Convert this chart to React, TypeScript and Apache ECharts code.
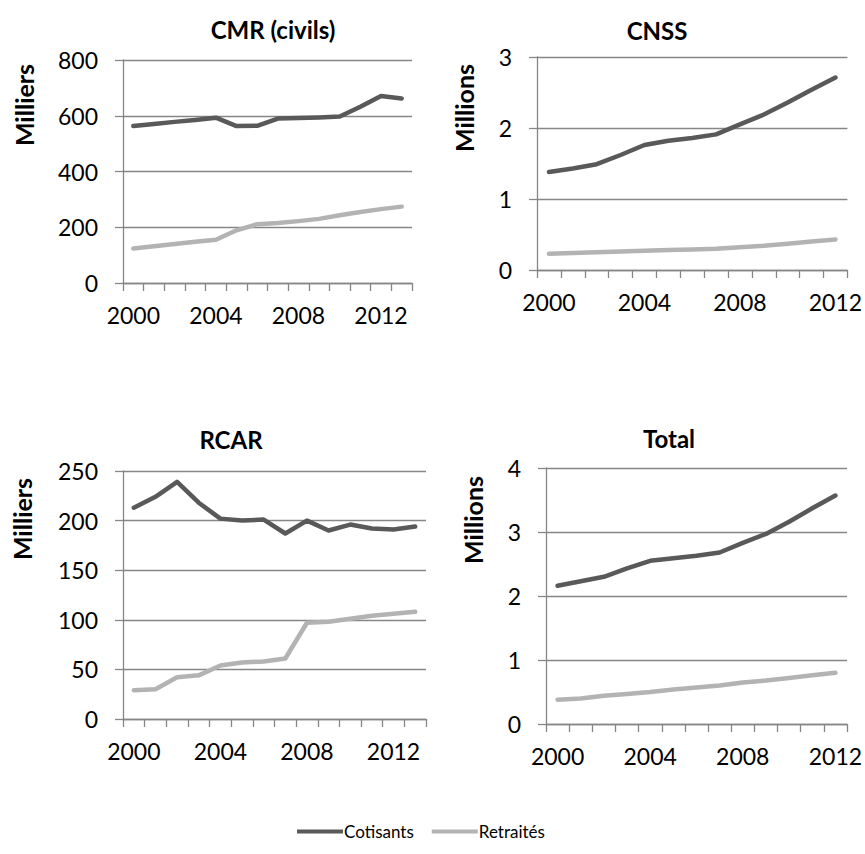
import React, { useEffect, useRef } from "react";
import * as echarts from "echarts";

const yearsLong = ["2000","2001","2002","2003","2004","2005","2006","2007","2008","2009","2010","2011","2012","2013"];
const yearsShort = ["2000","2001","2002","2003","2004","2005","2006","2007","2008","2009","2010","2011","2012"];

const cmrCotisants = [563, 570, 578, 585, 593, 563, 564, 590, 592, 594, 597, 632, 671, 662];
const cmrRetraites = [124, 132, 140, 148, 155, 189, 211, 215, 222, 230, 243, 255, 265, 274];

const cnssCotisants = [1.38, 1.43, 1.49, 1.62, 1.76, 1.82, 1.86, 1.91, 2.05, 2.19, 2.36, 2.54, 2.71];
const cnssRetraites = [0.23, 0.24, 0.25, 0.26, 0.27, 0.28, 0.29, 0.30, 0.32, 0.34, 0.37, 0.40, 0.43];

const rcarCotisants = [213, 224, 239, 218, 202, 200, 201, 187, 200, 190, 196, 192, 191, 194];
const rcarRetraites = [29, 30, 42, 44, 54, 57, 58, 61, 97, 98, 101, 104, 106, 108];

const totalCotisants = [2.16, 2.23, 2.30, 2.43, 2.55, 2.59, 2.63, 2.68, 2.83, 2.97, 3.16, 3.37, 3.57];
const totalRetraites = [0.38, 0.40, 0.44, 0.47, 0.50, 0.54, 0.57, 0.60, 0.65, 0.68, 0.72, 0.76, 0.80];

const titles = ["CMR (civils)", "CNSS", "RCAR", "Total"];
const unitNames = ["Milliers", "Millions", "Milliers", "Millions"];
const seriesNames = ["Cotisants", "Retraités"];

const DARK = "#595959";
const LIGHT = "#b3b3b3";
const AXIS = "#868686";
const FONT = "Lato, 'Noto Sans', sans-serif";

export default function App() {
  const ref = useRef<HTMLDivElement>(null);
  useEffect(() => {
    if (!ref.current) return;
    const chart = echarts.init(ref.current, undefined, { renderer: "svg" });

    const grids = [
      { left: 123, top: 60, width: 289, height: 223 },
      { left: 537, top: 57, width: 314, height: 213 },
      { left: 123, top: 471, width: 303, height: 248 },
      { left: 546, top: 468, width: 303, height: 256 },
    ];
    const cats = [yearsLong, yearsShort, yearsLong, yearsShort];
    const yCfg = [
      { max: 800, interval: 200 },
      { max: 3, interval: 1 },
      { max: 250, interval: 50 },
      { max: 4, interval: 1 },
    ];
    const data = [
      [cmrCotisants, cmrRetraites],
      [cnssCotisants, cnssRetraites],
      [rcarCotisants, rcarRetraites],
      [totalCotisants, totalRetraites],
    ];
    const titlePos = [
      { x: 268, y: 27 },
      { x: 652, y: 28 },
      { x: 226, y: 437 },
      { x: 664, y: 436 },
    ];
    const namePos = [
      { x: 24, y: 105 },
      { x: 464, y: 108 },
      { x: 22, y: 519 },
      { x: 473, y: 520 },
    ];

    const series: any[] = [];
    data.forEach((pair, i) => {
      pair.forEach((vals, j) => {
        series.push({
          name: seriesNames[j],
          type: "line",
          xAxisIndex: i,
          yAxisIndex: i,
          data: vals,
          showSymbol: false,
          symbol: "none",
          lineStyle: { color: j === 0 ? DARK : LIGHT, width: 4.5, cap: "round", join: "round" },
          itemStyle: { color: j === 0 ? DARK : LIGHT },
          z: j === 0 ? 3 : 2,
        });
      });
    });

    const option: any = {
      animation: false,
      backgroundColor: "#ffffff",
      textStyle: { fontFamily: FONT },
      title: titles.map((t, i) => ({
        text: t,
        left: titlePos[i].x,
        top: titlePos[i].y - 15,
        textAlign: "center",
        textStyle: { fontFamily: FONT, fontWeight: "bold", fontSize: 24, color: "#000" },
      })),
      grid: grids,
      xAxis: cats.map((c, i) => ({
        type: "category",
        gridIndex: i,
        data: c,
        boundaryGap: true,
        axisLine: { show: true, lineStyle: { color: AXIS, width: 1.3 } },
        axisTick: { show: true, interval: 0, length: 8, lineStyle: { color: AXIS, width: 1.3 } },
        axisLabel: { interval: 3, margin: 20, fontSize: 23, color: "#000", fontFamily: FONT },
        splitLine: { show: false },
      })),
      yAxis: yCfg.map((y, i) => ({
        type: "value",
        gridIndex: i,
        min: 0,
        max: y.max,
        interval: y.interval,
        axisLine: { show: true, lineStyle: { color: AXIS, width: 1.3 } },
        axisTick: { show: true, length: 8, lineStyle: { color: AXIS, width: 1.3 } },
        axisLabel: { margin: 25, fontSize: 23, color: "#000", fontFamily: FONT },
        splitLine: { show: true, lineStyle: { color: AXIS, width: 1.3 } },
      })),
      legend: {
        data: seriesNames,
        left: 292,
        top: 818,
        icon: "rect",
        itemWidth: 46,
        itemHeight: 4,
        itemGap: 18,
        textStyle: { fontFamily: FONT, fontSize: 17, color: "#000", padding: [0, 0, 0, -4] },
      },
      graphic: unitNames.map((n, i) => ({
        type: "text",
        x: namePos[i].x,
        y: namePos[i].y,
        rotation: Math.PI / 2,
        style: {
          text: n,
          font: `bold 25px ${FONT}`,
          fill: "#000",
          textAlign: "center",
          textVerticalAlign: "middle",
          align: "center",
          verticalAlign: "middle",
        },
      })),
      series,
    };
    chart.setOption(option);
    return () => chart.dispose();
  }, []);
  return (
    <div
      ref={ref}
      style={{ position: "fixed", left: 0, top: 0, width: 865, height: 854, background: "#fff" }}
    />
  );
}
